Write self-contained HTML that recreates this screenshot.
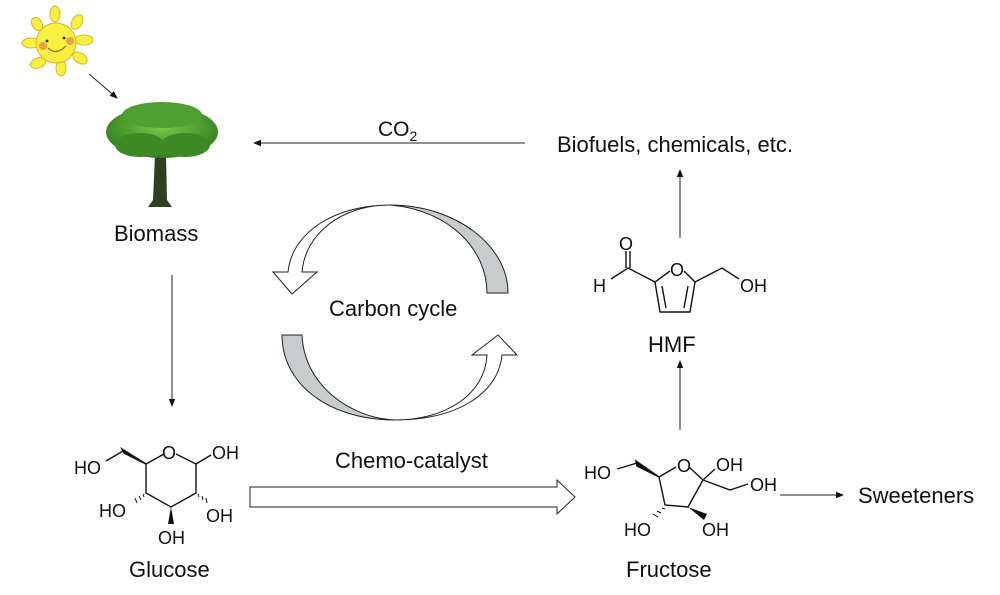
<!DOCTYPE html>
<html><head><meta charset="utf-8"><style>
html,body{margin:0;padding:0;background:#fff;}
svg{display:block;}
text{font-family:"Liberation Sans",Arial,sans-serif;fill:#111;}
</style></head><body>
<svg width="1000" height="595" viewBox="0 0 1000 595" xmlns="http://www.w3.org/2000/svg">
<defs>
<marker id="ah" markerWidth="8" markerHeight="8" refX="7" refY="4" orient="auto" markerUnits="userSpaceOnUse">
<path d="M0,0.8 L8,4 L0,7.2 Z" fill="#111"/></marker>
<radialGradient id="cg" cx="50%" cy="40%" r="60%"><stop offset="0" stop-color="#7cc84a"/><stop offset="1" stop-color="#2f7d1e"/></radialGradient>
</defs>

<!-- Sun -->
<g stroke="#d8b830" stroke-width="1" fill="#f8f040">
<ellipse cx="55" cy="14" rx="5" ry="8"/>
<ellipse cx="77" cy="22" rx="5" ry="8" transform="rotate(30 77 22)"/>
<ellipse cx="84" cy="40" rx="9" ry="5"/>
<ellipse cx="80" cy="58" rx="8" ry="5" transform="rotate(35 80 58)"/>
<ellipse cx="61" cy="68" rx="5" ry="8"/>
<ellipse cx="38" cy="63" rx="8" ry="5" transform="rotate(-20 38 63)"/>
<ellipse cx="31" cy="43" rx="9" ry="5"/>
<ellipse cx="37" cy="24" rx="5" ry="7" transform="rotate(-30 37 24)"/>
<circle cx="56" cy="43" r="20"/>
</g>
<circle cx="43" cy="46" r="4" fill="#f0a040"/><circle cx="70" cy="41" r="4" fill="#f0a040"/>
<circle cx="47" cy="41" r="1.4" fill="#222"/><circle cx="64" cy="38" r="1.4" fill="#222"/>
<path d="M48,48 Q56,56 66,46" stroke="#8a6a20" fill="none" stroke-width="1.2"/>
<line x1="89" y1="74" x2="117" y2="98" stroke="#222" stroke-width="1" marker-end="url(#ah)"/>

<!-- Tree -->
<path d="M155,155 L153,200 L148,207 L172,207 L167,200 L166,155 Z" fill="#2f3f20"/>
<ellipse cx="162" cy="132" rx="56" ry="26" fill="url(#cg)"/>
<ellipse cx="162" cy="115" rx="40" ry="13" fill="#4fa030"/>
<ellipse cx="140" cy="145" rx="25" ry="12" fill="#3d8a25"/>
<ellipse cx="185" cy="145" rx="25" ry="12" fill="#3d8a25"/>
<text x="114" y="241" font-size="22">Biomass</text>

<!-- CO2 arrow -->
<line x1="525" y1="143" x2="254" y2="143" stroke="#222" stroke-width="1" marker-end="url(#ah)"/>
<text x="378" y="136" font-size="21">CO<tspan font-size="14" dy="5">2</tspan></text>
<text x="557" y="152" font-size="22">Biofuels, chemicals, etc.</text>

<!-- vertical arrows -->
<line x1="172" y1="275" x2="172" y2="406" stroke="#222" stroke-width="1" marker-end="url(#ah)"/>
<line x1="680" y1="238" x2="680" y2="170" stroke="#222" stroke-width="1" marker-end="url(#ah)"/>
<line x1="680" y1="430" x2="680" y2="361" stroke="#222" stroke-width="1" marker-end="url(#ah)"/>
<line x1="780" y1="495" x2="843" y2="495" stroke="#222" stroke-width="1" marker-end="url(#ah)"/>

<!-- Carbon cycle -->
<path d="M390,205 C455,205 508,245 508,293 L487,293 C487,250 450,210 390,205 Z" fill="#c8cccc" stroke="#222" stroke-width="1"/>
<path d="M390,205 C340,205 305,235 302,272 L317,272 L292,294 L273,272 L288,272 C292,232 335,205 390,205 Z" fill="#fff" stroke="#222" stroke-width="1"/>
<path d="M282,335 L302,335 C304,385 350,418 395,420 C330,420 282,385 282,335 Z" fill="#c8cccc" stroke="#222" stroke-width="1"/>
<path d="M395,420 C445,420 485,395 487,355 L472,355 L498,335 L517,355 L502,355 C498,395 455,420 395,420 Z" fill="#fff" stroke="#222" stroke-width="1"/>
<text x="329" y="316" font-size="22">Carbon cycle</text>

<!-- Chemo-catalyst -->
<text x="335" y="468" font-size="22">Chemo-catalyst</text>
<path d="M250,487 L557,487 L557,480 L575,497 L557,514 L557,507 L250,507 Z" fill="#fff" stroke="#222" stroke-width="1"/>

<!-- Glucose -->
<g stroke="#111" stroke-width="1.4" fill="none">
<path d="M146,464 L164,454 M176,454 L196,464 L196,493 L171,507 L146,493 L146,464"/>
<line x1="196" y1="464" x2="211" y2="455"/>
<line x1="123" y1="451" x2="106" y2="461"/>
</g>
<path d="M146,464 L122,449 L124,453 Z" fill="#111" stroke="#111" stroke-width="1.5"/>
<path d="M171,507 L168,524 L174,524 Z" fill="#111"/>
<g stroke="#111" stroke-width="1">
<line x1="143" y1="494" x2="144" y2="497"/><line x1="139" y1="496" x2="141" y2="500"/><line x1="135" y1="498" x2="137" y2="503"/>
<line x1="198" y1="494" x2="199" y2="497"/><line x1="202" y1="496" x2="203" y2="500"/><line x1="206" y1="498" x2="207" y2="503"/>
</g>
<g font-size="18">
<text x="74" y="474">HO</text>
<text x="162" y="459">O</text>
<text x="212" y="459">OH</text>
<text x="99" y="517">HO</text>
<text x="206" y="522">OH</text>
<text x="158" y="544">OH</text>
</g>
<text x="129" y="577" font-size="22">Glucose</text>

<!-- Fructose -->
<g stroke="#111" stroke-width="1.4" fill="none">
<path d="M659,477 L676,467 M689,467 L703,480 L688,507 L665,505 L659,477"/>
<path d="M703,480 L715,469 M703,480 L730,490 L748,484"/>
<line x1="637" y1="463" x2="617" y2="469"/>
</g>
<path d="M659,477 L636,461 L637,466 Z" fill="#111" stroke="#111" stroke-width="1.5"/>
<path d="M688,507 L704,520 L707,514 Z" fill="#111"/>
<g stroke="#111" stroke-width="1">
<line x1="662" y1="508" x2="665" y2="509"/><line x1="657" y1="511" x2="661" y2="513"/><line x1="653" y1="514" x2="658" y2="517"/>
</g>
<g font-size="18">
<text x="584" y="479">HO</text>
<text x="677" y="472">O</text>
<text x="716" y="471">OH</text>
<text x="750" y="491">OH</text>
<text x="624" y="536">HO</text>
<text x="702" y="536">OH</text>
</g>
<text x="626" y="577" font-size="22">Fructose</text>
<text x="858" y="503" font-size="22">Sweeteners</text>

<!-- HMF -->
<g stroke="#111" stroke-width="1.4" fill="none">
<path d="M670,271 L655,282 L660,312 L690,312 L695,282 L684,271"/>
<path d="M662,286 L666,308 M684,308 L688,286"/>
<path d="M655,282 L628,268 L611,279"/>
<path d="M626,268 L626,251 M630,268 L630,251"/>
<path d="M695,282 L722,268 L739,279"/>
</g>
<g font-size="18">
<text x="619" y="250">O</text>
<text x="593" y="292">H</text>
<text x="670" y="276">O</text>
<text x="740" y="292">OH</text>
</g>
<text x="648" y="352" font-size="22">HMF</text>
</svg>
</body></html>
